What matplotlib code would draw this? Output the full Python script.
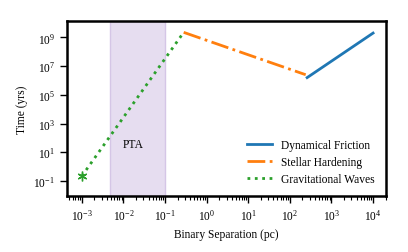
import matplotlib
matplotlib.use("Agg")
import matplotlib.pyplot as plt
import numpy as np

plt.rcParams['font.family'] = ['Liberation Serif', 'DejaVu Serif']
plt.rcParams['mathtext.fontset'] = 'stix'
plt.rcParams['font.size'] = 8.3

# separations (pc) and timescales (yrs) at the segment ends
gw_sep = [1e-3, 0.28]
gw_time = [10**-0.65, 10**9.35]
sh_sep = [0.28, 240]
sh_time = [10**9.35, 10**6.4]
df_sep = [260, 1e4]
df_time = [10**6.2, 10**9.3]
pta_range = [0.0047, 0.1]

fig = plt.figure(figsize=(4.08, 2.53), dpi=100)
ax = fig.add_axes([0.164, 0.221, 0.782, 0.692])

ax.axvspan(pta_range[0], pta_range[1], facecolor='#e6ddf0', edgecolor='#d5c6e6', lw=1)
ax.text(np.sqrt(pta_range[0] * pta_range[1]) * 0.8, 40, 'PTA', ha='center', va='center')

ax.plot(df_sep, df_time, color='tab:blue', lw=2, label='Dynamical Friction')
ax.plot(sh_sep, sh_time, color='tab:orange', lw=2, ls='-.', label='Stellar Hardening')
ax.plot(gw_sep, gw_time, color='tab:green', lw=2, ls=':', label='Gravitational Waves')
ax.plot(gw_sep[:1], gw_time[:1], color='tab:green', marker=(6, 2, 0), ms=7, mew=1.0, ls='none')

ax.set_xscale('log')
ax.set_yscale('log')
ax.set_xlim(10**-3.36, 10**4.31)
ax.set_ylim(10**-2.05, 10**10.14)
ax.set_yticks([10.0**k for k in range(-1, 10, 2)])
ax.yaxis.set_minor_locator(matplotlib.ticker.NullLocator())
ax.set_xticks([10.0**k for k in range(-3, 5)])

for s in ax.spines.values():
    s.set_linewidth(1.8)
ax.tick_params(which='major', length=5, width=1, direction='out')
ax.tick_params(which='minor', length=3, width=0.8)

ax.set_xlabel('Binary Separation (pc)')
ax.set_ylabel('Time (yrs)')
ax.legend(loc='lower right', frameon=False, handlelength=2.1, borderaxespad=0.6,
          labelspacing=0.4)

fig.savefig('out.png', dpi=100)
